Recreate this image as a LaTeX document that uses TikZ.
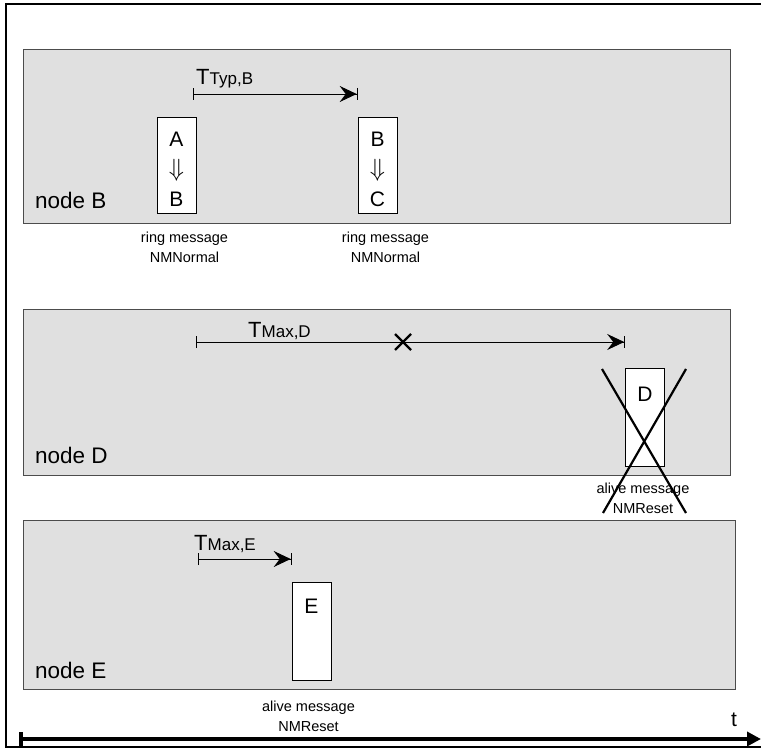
\documentclass[tikz,border=0pt]{standalone}
\usepackage{fontspec}
\setmainfont{Liberation Sans}
\usetikzlibrary{arrows.meta, positioning, calc}
\definecolor{panelgray}{RGB}{224,224,224}
\newcommand{\bigfont}{\fontsize{21}{30}\selectfont}
\newcommand{\namefont}{\fontsize{22.5}{26}\selectfont}
\newcommand{\smallfont}{\fontsize{14.5}{20}\selectfont}
\newcommand{\tfont}{\fontsize{22}{26}\selectfont}
\newcommand{\subfont}{\fontsize{17}{20}\selectfont}
\newcommand{\darrow}{{\fontsize{27}{30}\selectfont$\Downarrow$}}

\begin{document}
\begin{tikzpicture}[x=1pt, y=-1pt,
        panel/.style={draw=black!70, fill=panelgray, line width=0.8pt, anchor=north west, inner sep=0pt},
        msgbox/.style={draw, fill=white, line width=0.8pt, minimum width=39pt, minimum height=96pt, inner sep=0pt},
        letters/.style={font=\bigfont, align=center, inner sep=0pt},
        nodename/.style={font=\namefont, anchor=west, inner sep=0pt},
        msglabel/.style={font=\smallfont, align=center, inner sep=0pt},
        tlabel/.style={font=\tfont, anchor=base west, inner sep=0pt},
        timer/.style={line width=0.9pt, {Bar[width=12pt]}-{Stealth[length=17pt, width=16pt, inset=6pt]Bar[width=12pt]}},
        cross/.style={line width=2.2pt}
    ]
    \useasboundingbox (0,0) rectangle (761,749);
    \draw[line width=2pt] (761,4) -- (6,4) -- (6,747) -- (761,747);

    % node B
    \node[panel, minimum width=707pt, minimum height=174pt] (panelB) at (23,49) {};
    \node[nodename] (nameB) at (35,200) {node B};
    \node[msgbox] (boxAB) at (176.5,165) {};
    \node[letters, below=15pt of boxAB.north] (txtAB) {A\\\darrow\\B};
    \node[msgbox] (boxBC) at (377.5,165) {};
    \node[letters, below=15pt of boxBC.north] (txtBC) {B\\\darrow\\C};
    \node[msglabel, below=18pt of boxAB.south, xshift=8pt] (lblAB) {ring message\\NMNormal};
    \node[msglabel, below=18pt of boxBC.south, xshift=8pt] (lblBC) {ring message\\NMNormal};
    \node[tlabel] (tTypB) at (196,85) {T{\subfont Typ,B}};
    \coordinate (tB0) at (193,94);
    \coordinate (tB1) at (boxBC.north west |- tB0);
    \draw[timer] (tB0) -- (tB1);

    % node D
    \node[panel, minimum width=707pt, minimum height=166pt] (panelD) at (23,309) {};
    \node[nodename] (nameD) at (35,455) {node D};
    \node[msgbox, minimum height=98pt] (boxD) at (645,417) {};
    \node[letters, below=19pt of boxD.north] (txtD) {D};
    \node[msglabel, below=16pt of boxD.south, xshift=-2pt] (lblD) {alive message\\NMReset};
    \node[tlabel] (tMaxD) at (248,337) {T{\subfont Max,D}};
    \coordinate (tD0) at (196,342);
    \coordinate (tD1) at (boxD.north west |- tD0);
    \draw[timer] (tD0) -- (tD1);
    \coordinate (lost) at (403,342);
    \draw[cross] ($(lost)+(-8,-8)$) -- ($(lost)+(8,8)$);
    \draw[cross] ($(lost)+(8,-8)$) -- ($(lost)+(-8,8)$);
    \draw[cross] (602,369) -- (686,513);
    \draw[cross] (686,369) -- (603,513);

    % node E
    \node[panel, minimum width=712pt, minimum height=169pt] (panelE) at (23,520) {};
    \node[nodename] (nameE) at (35,670) {node E};
    \node[msgbox, minimum height=98pt] (boxE) at (311.5,631) {};
    \node[letters, below=17pt of boxE.north] (txtE) {E};
    \node[msglabel, below=20pt of boxE.south, xshift=-3pt] (lblE) {alive message\\NMReset};
    \node[tlabel] (tMaxE) at (194,550) {T{\subfont Max,E}};
    \coordinate (tE0) at (198,559);
    \coordinate (tE1) at (boxE.north west |- tE0);
    \draw[timer] (tE0) -- (tE1);

    % time axis
    \coordinate (t0) at (19,739);
    \coordinate (t1) at (761,739);
    \draw[line width=4pt, {Bar[width=14pt, line width=4pt]}-{Triangle[length=14pt, width=14pt]}] (t0) -- (t1);
    \node[letters] (tname) at (734,720) {t};
\end{tikzpicture}
\end{document}
